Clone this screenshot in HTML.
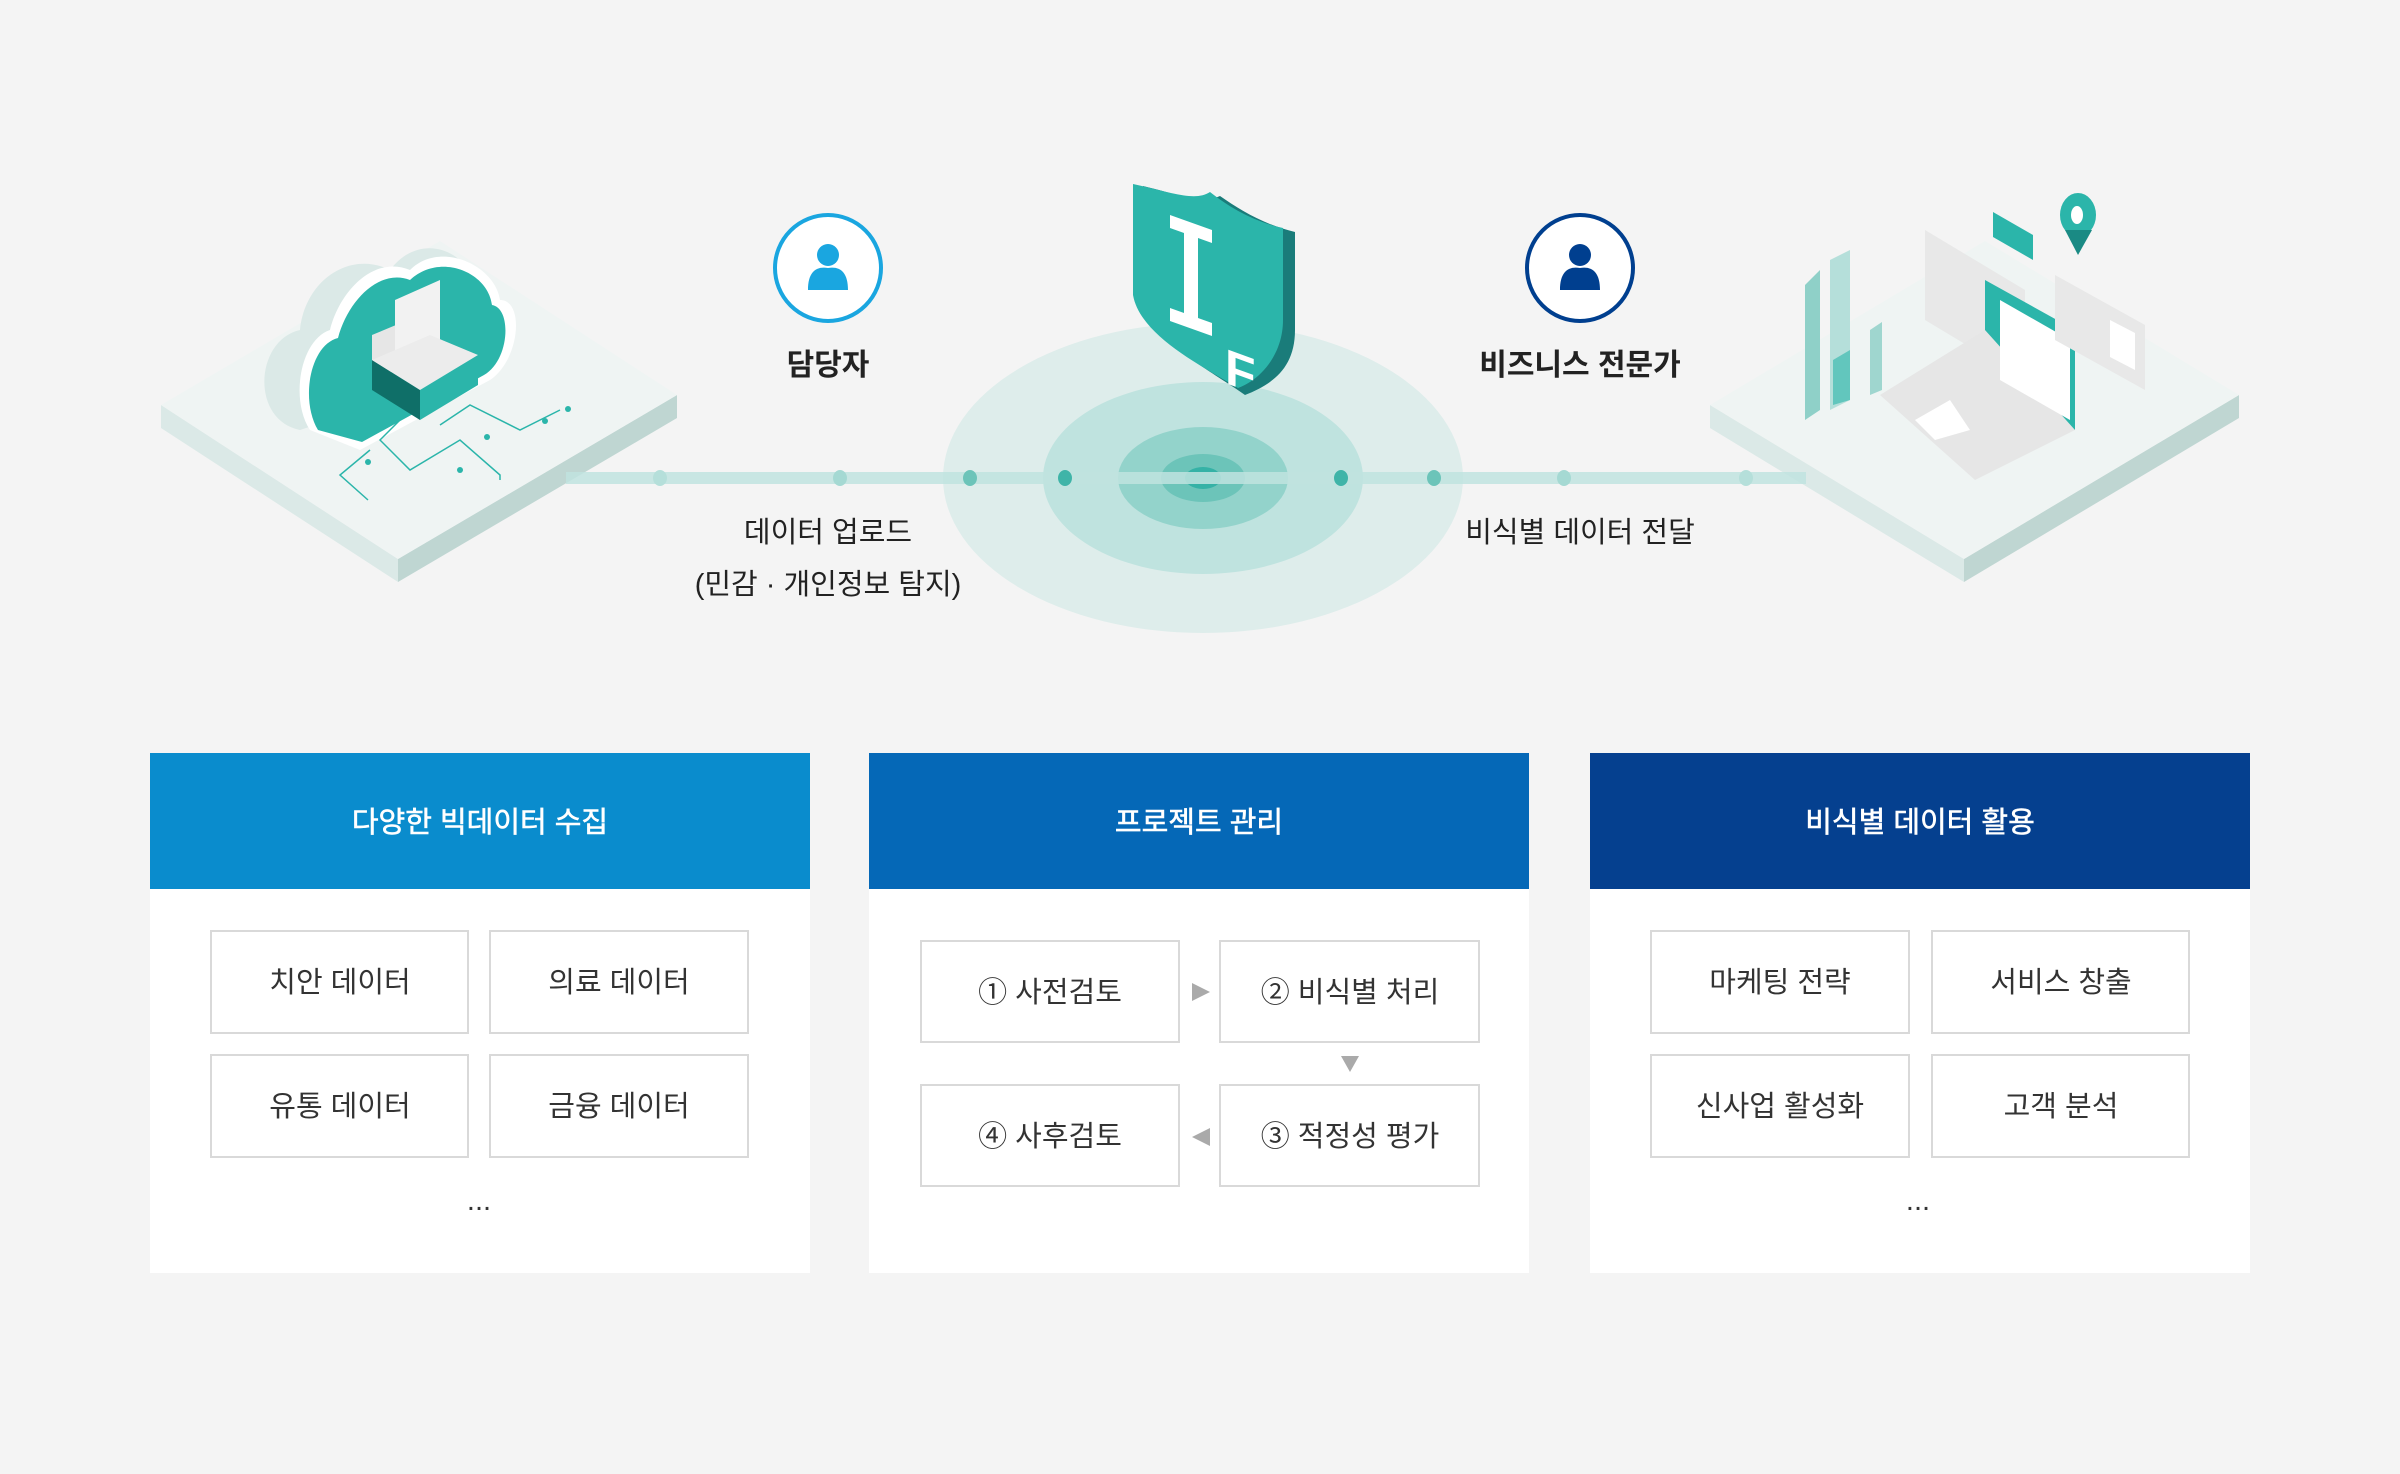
<!DOCTYPE html>
<html><head><meta charset="utf-8"><style>
html,body{margin:0;padding:0;background:#f4f4f4;}
svg{display:block}
text{font-family:"Liberation Sans","Noto Sans CJK KR",sans-serif;}
</style></head><body>
<svg width="2400" height="1474" viewBox="0 0 2400 1474" xmlns="http://www.w3.org/2000/svg">
<rect width="2400" height="1474" fill="#f4f4f4"/>

<ellipse cx="1203" cy="478" rx="260" ry="155" fill="#deedeb"/>
<ellipse cx="1203" cy="478" rx="160" ry="96" fill="#bfe3df"/>
<ellipse cx="1203" cy="478" rx="85" ry="51" fill="#93d3cb"/>
<ellipse cx="1203" cy="478" rx="42" ry="24" fill="#6cc4b9"/>
<ellipse cx="1203" cy="478" rx="18" ry="11" fill="#35b2a6"/>

<polygon points="161,405 398,559 398,582 161,428" fill="#dbe9e7"/>
<polygon points="398,559 677,395 677,418 398,582" fill="#bfd6d2"/>
<polygon points="161,405 440,241 677,395 398,559" fill="#eff4f3"/>
<polygon points="1710,405 1964,559 1964,582 1710,428" fill="#dbe9e7"/>
<polygon points="1964,559 2239,395 2239,418 1964,582" fill="#bfd6d2"/>
<polygon points="1710,405 1985,241 2239,395 1964,559" fill="#eff4f3"/>

<rect x="566" y="472" width="1240" height="12" fill="#bfe3df" opacity="0.85"/>
<ellipse cx="660" cy="478" rx="7" ry="8" fill="#b5dfda"/>
<ellipse cx="840" cy="478" rx="7" ry="8" fill="#a5d9d3"/>
<ellipse cx="970" cy="478" rx="7" ry="8" fill="#6cc4b9"/>
<ellipse cx="1065" cy="478" rx="7" ry="8" fill="#3fb4a8"/>
<ellipse cx="1341" cy="478" rx="7" ry="8" fill="#3fb4a8"/>
<ellipse cx="1434" cy="478" rx="7" ry="8" fill="#6cc4b9"/>
<ellipse cx="1564" cy="478" rx="7" ry="8" fill="#a5d9d3"/>
<ellipse cx="1746" cy="478" rx="7" ry="8" fill="#b5dfda"/>

<path d="M300,430 C250,420 255,340 300,330 C305,280 350,250 390,270 C420,230 470,250 475,290 C520,290 515,350 480,370 Z" fill="#dbe9e7"/>
<path d="M310,430 C290,400 300,340 330,330 C340,290 375,255 410,270 C440,240 495,265 500,300 C525,300 520,360 490,380 L360,450 Z" fill="#fff"/>
<path d="M318,430 C300,400 310,345 338,338 C348,300 380,268 410,280 C440,252 488,272 492,305 C512,308 510,360 484,375 L362,442 Z" fill="#2bb5aa"/>
<polygon points="372,335 420,315 420,360 372,380" fill="#e6e6e6"/>
<polygon points="395,300 440,280 440,350 395,370" fill="#f2f2f2"/>
<polygon points="372,360 420,390 420,420 372,390" fill="#0f6f68"/>
<polygon points="420,390 478,355 478,385 420,420" fill="#2bb5aa"/>
<polygon points="372,360 430,335 478,355 420,390" fill="#ececec"/>
<g stroke="#2bb5aa" stroke-width="1.5" fill="none">
<polyline points="400,420 380,440 410,470 460,440 500,475 500,480"/>
<polyline points="370,450 340,475 368,500"/>
<polyline points="440,425 470,405 520,430 560,410"/>
</g>
<g fill="#2bb5aa"><circle cx="368" cy="462" r="3"/><circle cx="460" cy="470" r="3"/><circle cx="487" cy="437" r="3"/><circle cx="545" cy="421" r="3"/><circle cx="568" cy="409" r="3"/></g>

<polygon points="1805,285 1820,270 1820,410 1805,420" fill="#8fd0c8"/>
<polygon points="1830,260 1850,250 1850,400 1830,410" fill="#b5dfda"/>
<polygon points="1870,330 1882,322 1882,390 1870,395" fill="#9fd6cf"/>
<polygon points="1833,360 1850,350 1850,400 1833,405" fill="#2bb5aa" opacity="0.6"/>
<polygon points="1925,230 2025,290 2025,380 1925,320" fill="#e8e8e8"/>
<polygon points="1985,280 2075,330 2075,430 1985,375" fill="#2bb5aa"/>
<polygon points="1880,395 1985,330 2075,430 1975,480" fill="#e6e6e6"/>
<polygon points="1915,420 1950,400 1970,430 1935,440" fill="#fff"/>
<polygon points="2000,300 2070,340 2070,420 2000,380" fill="#fff"/>
<polygon points="2055,275 2145,325 2145,390 2055,340" fill="#e8e8e8"/>
<polygon points="2110,320 2135,333 2135,370 2110,357" fill="#fff"/>
<polygon points="1993,212 2033,235 2033,260 1993,237" fill="#2bb5aa"/>
<ellipse cx="2078" cy="215" rx="18" ry="22" fill="#2bb5aa"/>
<ellipse cx="2077" cy="215" rx="6" ry="9" fill="#fff"/>
<polygon points="2065,230 2092,230 2078,255" fill="#1a8a84"/>

<path d="M1143,186 C1185,196 1200,205 1220,196 C1240,210 1265,225 1295,232 L1295,330 C1295,370 1270,385 1245,395 C1210,370 1150,340 1143,300 Z" fill="#1a7c7a"/>
<path d="M1133,184 C1170,192 1195,202 1210,192 C1230,208 1255,222 1283,228 L1283,320 C1283,355 1260,380 1238,388 C1200,365 1140,335 1133,295 Z" fill="#2bb5aa"/>
<polygon points="1170,215 1212,230 1212,243 1198,238 1198,318 1212,323 1212,336 1170,321 1170,308 1184,313 1184,233 1170,228" fill="#fff"/>
<text x="1225" y="382" font-size="50" font-weight="bold" fill="#fff" transform="skewY(20) translate(0,-445)">F</text>

<circle cx="828" cy="268" r="53" fill="#fff" stroke="#1aa6e0" stroke-width="4"/>
<circle cx="828" cy="255" r="11" fill="#1aa6e0"/>
<path d="M808,290 C808,272 816,266 828,268 C840,266 848,272 848,290 Z" fill="#1aa6e0"/>
<circle cx="1580" cy="268" r="53" fill="#fff" stroke="#003f8f" stroke-width="4"/>
<circle cx="1580" cy="255" r="11" fill="#003f8f"/>
<path d="M1560,290 C1560,272 1568,266 1580,268 C1592,266 1600,272 1600,290 Z" fill="#003f8f"/>

<g font-size="30" fill="#222" text-anchor="middle">
<text x="828" y="375" font-weight="bold">담당자</text>
<text x="1580" y="375" font-weight="bold">비즈니스 전문가</text>
<text x="828" y="542" font-size="29">데이터 업로드</text>
<text x="828" y="594" font-size="29">(민감 · 개인정보 탐지)</text>
<text x="1580" y="542" font-size="29">비식별 데이터 전달</text>
</g>

<rect x="150" y="753" width="660" height="520" fill="#fff"/>
<rect x="150" y="753" width="660" height="136" fill="#0a8ccd"/>
<rect x="869" y="753" width="660" height="520" fill="#fff"/>
<rect x="869" y="753" width="660" height="136" fill="#0568b7"/>
<rect x="1590" y="753" width="660" height="520" fill="#fff"/>
<rect x="1590" y="753" width="660" height="136" fill="#05408f"/>
<g font-size="29" fill="#fff" text-anchor="middle" stroke="#fff" stroke-width="0.6">
<text x="480" y="832">다양한 빅데이터 수집</text>
<text x="1199" y="832">프로젝트 관리</text>
<text x="1920" y="832">비식별 데이터 활용</text>
</g>

<g fill="#fff" stroke="#d9d9d9" stroke-width="2">
<rect x="211" y="931" width="257" height="102"/><rect x="490" y="931" width="258" height="102"/>
<rect x="211" y="1055" width="257" height="102"/><rect x="490" y="1055" width="258" height="102"/>
<rect x="921" y="941" width="258" height="101"/><rect x="1220" y="941" width="259" height="101"/>
<rect x="921" y="1085" width="258" height="101"/><rect x="1220" y="1085" width="259" height="101"/>
<rect x="1651" y="931" width="258" height="102"/><rect x="1932" y="931" width="257" height="102"/>
<rect x="1651" y="1055" width="258" height="102"/><rect x="1932" y="1055" width="257" height="102"/>
</g>
<g font-size="29" fill="#333" text-anchor="middle">
<text x="340" y="992">치안 데이터</text><text x="619" y="992">의료 데이터</text>
<text x="340" y="1116">유통 데이터</text><text x="619" y="1116">금융 데이터</text>
<text x="479" y="1210">...</text>
<text x="1050" y="1002">① 사전검토</text><text x="1350" y="1002">② 비식별 처리</text>
<text x="1050" y="1146">④ 사후검토</text><text x="1350" y="1146">③ 적정성 평가</text>
<text x="1780" y="992">마케팅 전략</text><text x="2061" y="992">서비스 창출</text>
<text x="1780" y="1116">신사업 활성화</text><text x="2061" y="1116">고객 분석</text>
<text x="1918" y="1210">...</text>
</g>
<g fill="#aaa">
<polygon points="1192,983 1210,992 1192,1001"/>
<polygon points="1341,1056 1359,1056 1350,1072"/>
<polygon points="1210,1128 1192,1137 1210,1146"/>
</g>
</svg>
</body></html>
